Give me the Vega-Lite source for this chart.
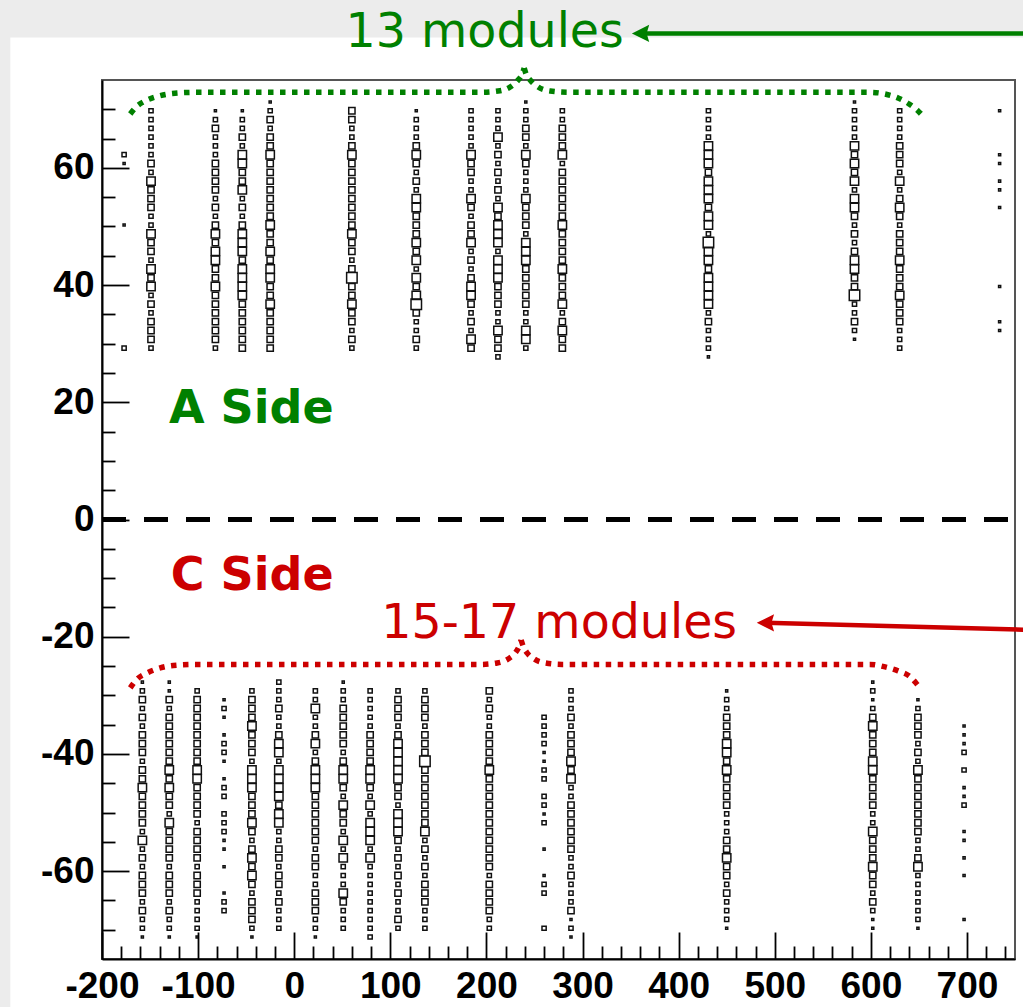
{
  "$schema": "https://vega.github.io/schema/vega-lite/v6.json",
  "width": 913,
  "height": 879,
  "autosize": {"type": "none"},
  "padding": {"left": 102, "top": 80, "right": 8, "bottom": 48},
  "background": "#ffffff",
  "config": {"view": {"stroke": "#555555", "strokeWidth": 2}},
  "datasets": {
    "strips": [
      {"x": -400, "x2": 800, "y": 82.27, "y2": 100},
      {"x": -400, "x2": -295.4, "y": -100, "y2": 100}
    ],
    "zeroline": [{"x": -200, "x2": 750, "y": 0}],
    "boxes": [
      {"x":-177,"y":62.25,"n":2},{"x":-177,"y":60.75,"n":1},{"x":-177,"y":50.25,"n":1},{"x":-177,"y":29.25,"n":2},

      {"x":-149,"y":69.75,"n":2},{"x":-149,"y":68.25,"n":2},{"x":-149,"y":66.75,"n":2},{"x":-149,"y":65.25,"n":2},{"x":-149,"y":63.75,"n":2},{"x":-149,"y":62.25,"n":2},{"x":-149,"y":60.75,"n":3},{"x":-149,"y":59.25,"n":2},{"x":-149,"y":57.75,"n":4},{"x":-149,"y":56.25,"n":3},{"x":-149,"y":54.75,"n":3},{"x":-149,"y":53.25,"n":3},{"x":-149,"y":51.75,"n":2},{"x":-149,"y":50.25,"n":2},{"x":-149,"y":48.75,"n":4},{"x":-149,"y":47.25,"n":3},{"x":-149,"y":45.75,"n":3},{"x":-149,"y":44.25,"n":2},{"x":-149,"y":42.75,"n":4},{"x":-149,"y":41.25,"n":3},{"x":-149,"y":39.75,"n":4},{"x":-149,"y":38.25,"n":2},{"x":-149,"y":36.75,"n":3},{"x":-149,"y":35.25,"n":2},{"x":-149,"y":33.75,"n":3},{"x":-149,"y":32.25,"n":3},{"x":-149,"y":30.75,"n":3},{"x":-149,"y":29.25,"n":2},

      {"x":-82,"y":69.75,"n":1},{"x":-82,"y":68.25,"n":2},{"x":-82,"y":66.75,"n":3},{"x":-82,"y":65.25,"n":2},{"x":-82,"y":63.75,"n":2},{"x":-82,"y":62.25,"n":2},{"x":-82,"y":60.75,"n":3},{"x":-82,"y":59.25,"n":3},{"x":-82,"y":57.75,"n":3},{"x":-82,"y":56.25,"n":3},{"x":-82,"y":54.75,"n":2},{"x":-82,"y":53.25,"n":3},{"x":-82,"y":51.75,"n":2},{"x":-82,"y":50.25,"n":3},{"x":-82,"y":48.75,"n":4},{"x":-82,"y":47.25,"n":3},{"x":-82,"y":45.75,"n":4},{"x":-82,"y":44.25,"n":4},{"x":-82,"y":42.75,"n":3},{"x":-82,"y":41.25,"n":3},{"x":-82,"y":39.75,"n":4},{"x":-82,"y":38.25,"n":3},{"x":-82,"y":36.75,"n":3},{"x":-82,"y":35.25,"n":3},{"x":-82,"y":33.75,"n":3},{"x":-82,"y":32.25,"n":3},{"x":-82,"y":30.75,"n":3},{"x":-82,"y":29.25,"n":2},

      {"x":-54,"y":69.75,"n":1},{"x":-54,"y":68.25,"n":2},{"x":-54,"y":66.75,"n":2},{"x":-54,"y":65.25,"n":3},{"x":-54,"y":63.75,"n":2},{"x":-54,"y":62.25,"n":4},{"x":-54,"y":60.75,"n":4},{"x":-54,"y":59.25,"n":3},{"x":-54,"y":57.75,"n":3},{"x":-54,"y":56.25,"n":4},{"x":-54,"y":54.75,"n":2},{"x":-54,"y":53.25,"n":3},{"x":-54,"y":51.75,"n":2},{"x":-54,"y":50.25,"n":3},{"x":-54,"y":48.75,"n":4},{"x":-54,"y":47.25,"n":4},{"x":-54,"y":45.75,"n":4},{"x":-54,"y":44.25,"n":3},{"x":-54,"y":42.75,"n":4},{"x":-54,"y":41.25,"n":4},{"x":-54,"y":39.75,"n":4},{"x":-54,"y":38.25,"n":4},{"x":-54,"y":36.75,"n":3},{"x":-54,"y":35.25,"n":3},{"x":-54,"y":33.75,"n":3},{"x":-54,"y":32.25,"n":3},{"x":-54,"y":30.75,"n":3},{"x":-54,"y":29.25,"n":3},

      {"x":-25,"y":71.25,"n":1},{"x":-25,"y":69.75,"n":2},{"x":-25,"y":68.25,"n":3},{"x":-25,"y":66.75,"n":2},{"x":-25,"y":65.25,"n":3},{"x":-25,"y":63.75,"n":3},{"x":-25,"y":62.25,"n":4},{"x":-25,"y":60.75,"n":3},{"x":-25,"y":59.25,"n":3},{"x":-25,"y":57.75,"n":3},{"x":-25,"y":56.25,"n":3},{"x":-25,"y":54.75,"n":3},{"x":-25,"y":53.25,"n":3},{"x":-25,"y":51.75,"n":3},{"x":-25,"y":50.25,"n":4},{"x":-25,"y":48.75,"n":3},{"x":-25,"y":47.25,"n":3},{"x":-25,"y":45.75,"n":4},{"x":-25,"y":44.25,"n":3},{"x":-25,"y":42.75,"n":4},{"x":-25,"y":41.25,"n":4},{"x":-25,"y":39.75,"n":3},{"x":-25,"y":38.25,"n":3},{"x":-25,"y":36.75,"n":4},{"x":-25,"y":35.25,"n":3},{"x":-25,"y":33.75,"n":3},{"x":-25,"y":32.25,"n":3},{"x":-25,"y":30.75,"n":3},{"x":-25,"y":29.25,"n":3},

      {"x":60,"y":69.75,"n":3},{"x":60,"y":68.25,"n":3},{"x":60,"y":66.75,"n":2},{"x":60,"y":65.25,"n":2},{"x":60,"y":63.75,"n":3},{"x":60,"y":62.25,"n":4},{"x":60,"y":60.75,"n":3},{"x":60,"y":59.25,"n":3},{"x":60,"y":57.75,"n":3},{"x":60,"y":56.25,"n":3},{"x":60,"y":54.75,"n":3},{"x":60,"y":53.25,"n":3},{"x":60,"y":51.75,"n":3},{"x":60,"y":50.25,"n":3},{"x":60,"y":48.75,"n":4},{"x":60,"y":47.25,"n":3},{"x":60,"y":45.75,"n":3},{"x":60,"y":44.25,"n":2},{"x":60,"y":42.75,"n":3},{"x":60,"y":41.25,"n":5},{"x":60,"y":39.75,"n":3},{"x":60,"y":38.25,"n":3},{"x":60,"y":36.75,"n":4},{"x":60,"y":35.25,"n":3},{"x":60,"y":33.75,"n":3},{"x":60,"y":32.25,"n":2},{"x":60,"y":30.75,"n":3},{"x":60,"y":29.25,"n":2},

      {"x":127,"y":69.75,"n":1},{"x":127,"y":68.25,"n":2},{"x":127,"y":66.75,"n":2},{"x":127,"y":65.25,"n":2},{"x":127,"y":63.75,"n":3},{"x":127,"y":62.25,"n":4},{"x":127,"y":60.75,"n":3},{"x":127,"y":59.25,"n":2},{"x":127,"y":57.75,"n":3},{"x":127,"y":56.25,"n":2},{"x":127,"y":54.75,"n":4},{"x":127,"y":53.25,"n":4},{"x":127,"y":51.75,"n":3},{"x":127,"y":50.25,"n":3},{"x":127,"y":48.75,"n":3},{"x":127,"y":47.25,"n":4},{"x":127,"y":45.75,"n":3},{"x":127,"y":44.25,"n":4},{"x":127,"y":42.75,"n":2},{"x":127,"y":41.25,"n":4},{"x":127,"y":39.75,"n":3},{"x":127,"y":38.25,"n":4},{"x":127,"y":36.75,"n":5},{"x":127,"y":35.25,"n":3},{"x":127,"y":33.75,"n":2},{"x":127,"y":32.25,"n":2},{"x":127,"y":30.75,"n":3},{"x":127,"y":29.25,"n":2},

      {"x":184,"y":69.75,"n":2},{"x":184,"y":68.25,"n":2},{"x":184,"y":66.75,"n":2},{"x":184,"y":65.25,"n":2},{"x":184,"y":63.75,"n":2},{"x":184,"y":62.25,"n":4},{"x":184,"y":60.75,"n":3},{"x":184,"y":59.25,"n":3},{"x":184,"y":57.75,"n":2},{"x":184,"y":56.25,"n":2},{"x":184,"y":54.75,"n":4},{"x":184,"y":53.25,"n":3},{"x":184,"y":51.75,"n":2},{"x":184,"y":50.25,"n":3},{"x":184,"y":48.75,"n":3},{"x":184,"y":47.25,"n":4},{"x":184,"y":45.75,"n":2},{"x":184,"y":44.25,"n":3},{"x":184,"y":42.75,"n":2},{"x":184,"y":41.25,"n":3},{"x":184,"y":39.75,"n":4},{"x":184,"y":38.25,"n":4},{"x":184,"y":36.75,"n":3},{"x":184,"y":35.25,"n":2},{"x":184,"y":33.75,"n":3},{"x":184,"y":32.25,"n":2},{"x":184,"y":30.75,"n":4},{"x":184,"y":29.25,"n":3},

      {"x":212,"y":69.75,"n":2},{"x":212,"y":68.25,"n":2},{"x":212,"y":66.75,"n":2},{"x":212,"y":65.25,"n":4},{"x":212,"y":63.75,"n":2},{"x":212,"y":62.25,"n":3},{"x":212,"y":60.75,"n":2},{"x":212,"y":59.25,"n":3},{"x":212,"y":57.75,"n":2},{"x":212,"y":56.25,"n":3},{"x":212,"y":54.75,"n":2},{"x":212,"y":53.25,"n":4},{"x":212,"y":51.75,"n":3},{"x":212,"y":50.25,"n":4},{"x":212,"y":48.75,"n":4},{"x":212,"y":47.25,"n":4},{"x":212,"y":45.75,"n":2},{"x":212,"y":44.25,"n":4},{"x":212,"y":42.75,"n":4},{"x":212,"y":41.25,"n":4},{"x":212,"y":39.75,"n":3},{"x":212,"y":38.25,"n":3},{"x":212,"y":36.75,"n":3},{"x":212,"y":35.25,"n":2},{"x":212,"y":33.75,"n":2},{"x":212,"y":32.25,"n":4},{"x":212,"y":30.75,"n":3},{"x":212,"y":29.25,"n":3},{"x":212,"y":27.75,"n":2},

      {"x":241,"y":71.25,"n":1},{"x":241,"y":69.75,"n":2},{"x":241,"y":68.25,"n":2},{"x":241,"y":66.75,"n":3},{"x":241,"y":65.25,"n":3},{"x":241,"y":63.75,"n":2},{"x":241,"y":62.25,"n":4},{"x":241,"y":60.75,"n":3},{"x":241,"y":59.25,"n":2},{"x":241,"y":57.75,"n":2},{"x":241,"y":56.25,"n":2},{"x":241,"y":54.75,"n":4},{"x":241,"y":53.25,"n":3},{"x":241,"y":51.75,"n":3},{"x":241,"y":50.25,"n":3},{"x":241,"y":48.75,"n":2},{"x":241,"y":47.25,"n":4},{"x":241,"y":45.75,"n":4},{"x":241,"y":44.25,"n":4},{"x":241,"y":42.75,"n":3},{"x":241,"y":41.25,"n":3},{"x":241,"y":39.75,"n":3},{"x":241,"y":38.25,"n":3},{"x":241,"y":36.75,"n":3},{"x":241,"y":35.25,"n":2},{"x":241,"y":33.75,"n":2},{"x":241,"y":32.25,"n":4},{"x":241,"y":30.75,"n":4},{"x":241,"y":29.25,"n":2},

      {"x":279,"y":69.75,"n":2},{"x":279,"y":68.25,"n":2},{"x":279,"y":66.75,"n":3},{"x":279,"y":65.25,"n":3},{"x":279,"y":63.75,"n":3},{"x":279,"y":62.25,"n":4},{"x":279,"y":60.75,"n":2},{"x":279,"y":59.25,"n":3},{"x":279,"y":57.75,"n":3},{"x":279,"y":56.25,"n":3},{"x":279,"y":54.75,"n":3},{"x":279,"y":53.25,"n":3},{"x":279,"y":51.75,"n":3},{"x":279,"y":50.25,"n":4},{"x":279,"y":48.75,"n":3},{"x":279,"y":47.25,"n":3},{"x":279,"y":45.75,"n":3},{"x":279,"y":44.25,"n":3},{"x":279,"y":42.75,"n":4},{"x":279,"y":41.25,"n":3},{"x":279,"y":39.75,"n":3},{"x":279,"y":38.25,"n":3},{"x":279,"y":36.75,"n":4},{"x":279,"y":35.25,"n":2},{"x":279,"y":33.75,"n":3},{"x":279,"y":32.25,"n":4},{"x":279,"y":30.75,"n":3},{"x":279,"y":29.25,"n":3},

      {"x":431,"y":69.75,"n":2},{"x":431,"y":68.25,"n":2},{"x":431,"y":66.75,"n":2},{"x":431,"y":65.25,"n":2},{"x":431,"y":63.75,"n":4},{"x":431,"y":62.25,"n":4},{"x":431,"y":60.75,"n":4},{"x":431,"y":59.25,"n":3},{"x":431,"y":57.75,"n":4},{"x":431,"y":56.25,"n":4},{"x":431,"y":54.75,"n":4},{"x":431,"y":53.25,"n":3},{"x":431,"y":51.75,"n":4},{"x":431,"y":50.25,"n":4},{"x":431,"y":48.75,"n":2},{"x":431,"y":47.25,"n":5},{"x":431,"y":45.75,"n":4},{"x":431,"y":44.25,"n":4},{"x":431,"y":42.75,"n":3},{"x":431,"y":41.25,"n":4},{"x":431,"y":39.75,"n":4},{"x":431,"y":38.25,"n":4},{"x":431,"y":36.75,"n":4},{"x":431,"y":35.25,"n":2},{"x":431,"y":33.75,"n":3},{"x":431,"y":32.25,"n":2},{"x":431,"y":30.75,"n":2},{"x":431,"y":29.25,"n":2},{"x":431,"y":27.75,"n":1},

      {"x":583,"y":71.25,"n":1},{"x":583,"y":69.75,"n":2},{"x":583,"y":68.25,"n":2},{"x":583,"y":66.75,"n":2},{"x":583,"y":65.25,"n":2},{"x":583,"y":63.75,"n":4},{"x":583,"y":62.25,"n":3},{"x":583,"y":60.75,"n":4},{"x":583,"y":59.25,"n":3},{"x":583,"y":57.75,"n":4},{"x":583,"y":56.25,"n":2},{"x":583,"y":54.75,"n":4},{"x":583,"y":53.25,"n":4},{"x":583,"y":51.75,"n":3},{"x":583,"y":50.25,"n":2},{"x":583,"y":48.75,"n":3},{"x":583,"y":47.25,"n":2},{"x":583,"y":45.75,"n":3},{"x":583,"y":44.25,"n":4},{"x":583,"y":42.75,"n":4},{"x":583,"y":41.25,"n":3},{"x":583,"y":39.75,"n":3},{"x":583,"y":38.25,"n":5},{"x":583,"y":36.75,"n":2},{"x":583,"y":35.25,"n":2},{"x":583,"y":33.75,"n":3},{"x":583,"y":32.25,"n":2},{"x":583,"y":30.75,"n":1},

      {"x":630,"y":69.75,"n":2},{"x":630,"y":68.25,"n":2},{"x":630,"y":66.75,"n":2},{"x":630,"y":65.25,"n":2},{"x":630,"y":63.75,"n":3},{"x":630,"y":62.25,"n":3},{"x":630,"y":60.75,"n":3},{"x":630,"y":59.25,"n":2},{"x":630,"y":57.75,"n":4},{"x":630,"y":56.25,"n":2},{"x":630,"y":54.75,"n":3},{"x":630,"y":53.25,"n":4},{"x":630,"y":51.75,"n":3},{"x":630,"y":50.25,"n":2},{"x":630,"y":48.75,"n":3},{"x":630,"y":47.25,"n":3},{"x":630,"y":45.75,"n":3},{"x":630,"y":44.25,"n":4},{"x":630,"y":42.75,"n":3},{"x":630,"y":41.25,"n":3},{"x":630,"y":39.75,"n":3},{"x":630,"y":38.25,"n":4},{"x":630,"y":36.75,"n":3},{"x":630,"y":35.25,"n":3},{"x":630,"y":33.75,"n":3},{"x":630,"y":32.25,"n":2},{"x":630,"y":30.75,"n":2},{"x":630,"y":29.25,"n":2},

      {"x":734,"y":69.75,"n":1},{"x":734,"y":62.25,"n":1},{"x":734,"y":60.75,"n":1},{"x":734,"y":57.75,"n":1},{"x":734,"y":56.25,"n":1},{"x":734,"y":53.25,"n":1},{"x":734,"y":39.75,"n":1},{"x":734,"y":33.75,"n":1},{"x":734,"y":32.25,"n":1},

      {"x":-158,"y":-27.75,"n":1},{"x":-158,"y":-29.25,"n":2},{"x":-158,"y":-30.75,"n":3},{"x":-158,"y":-32.25,"n":2},{"x":-158,"y":-33.75,"n":3},{"x":-158,"y":-35.25,"n":2},{"x":-158,"y":-36.75,"n":3},{"x":-158,"y":-38.25,"n":3},{"x":-158,"y":-39.75,"n":3},{"x":-158,"y":-41.25,"n":2},{"x":-158,"y":-42.75,"n":3},{"x":-158,"y":-44.25,"n":3},{"x":-158,"y":-45.75,"n":4},{"x":-158,"y":-47.25,"n":3},{"x":-158,"y":-48.75,"n":3},{"x":-158,"y":-50.25,"n":3},{"x":-158,"y":-51.75,"n":3},{"x":-158,"y":-53.25,"n":2},{"x":-158,"y":-54.75,"n":4},{"x":-158,"y":-56.25,"n":2},{"x":-158,"y":-57.75,"n":3},{"x":-158,"y":-59.25,"n":2},{"x":-158,"y":-60.75,"n":3},{"x":-158,"y":-62.25,"n":3},{"x":-158,"y":-63.75,"n":3},{"x":-158,"y":-65.25,"n":2},{"x":-158,"y":-66.75,"n":3},{"x":-158,"y":-68.25,"n":2},{"x":-158,"y":-69.75,"n":2},{"x":-158,"y":-71.25,"n":1},

      {"x":-130,"y":-27.75,"n":1},{"x":-130,"y":-29.25,"n":1},{"x":-130,"y":-30.75,"n":3},{"x":-130,"y":-32.25,"n":2},{"x":-130,"y":-33.75,"n":3},{"x":-130,"y":-35.25,"n":3},{"x":-130,"y":-36.75,"n":3},{"x":-130,"y":-38.25,"n":3},{"x":-130,"y":-39.75,"n":3},{"x":-130,"y":-41.25,"n":3},{"x":-130,"y":-42.75,"n":4},{"x":-130,"y":-44.25,"n":3},{"x":-130,"y":-45.75,"n":4},{"x":-130,"y":-47.25,"n":3},{"x":-130,"y":-48.75,"n":3},{"x":-130,"y":-50.25,"n":2},{"x":-130,"y":-51.75,"n":4},{"x":-130,"y":-53.25,"n":3},{"x":-130,"y":-54.75,"n":3},{"x":-130,"y":-56.25,"n":3},{"x":-130,"y":-57.75,"n":3},{"x":-130,"y":-59.25,"n":2},{"x":-130,"y":-60.75,"n":3},{"x":-130,"y":-62.25,"n":3},{"x":-130,"y":-63.75,"n":3},{"x":-130,"y":-65.25,"n":2},{"x":-130,"y":-66.75,"n":3},{"x":-130,"y":-68.25,"n":2},{"x":-130,"y":-69.75,"n":2},{"x":-130,"y":-71.25,"n":1},

      {"x":-101,"y":-29.25,"n":2},{"x":-101,"y":-30.75,"n":3},{"x":-101,"y":-32.25,"n":3},{"x":-101,"y":-33.75,"n":3},{"x":-101,"y":-35.25,"n":3},{"x":-101,"y":-36.75,"n":3},{"x":-101,"y":-38.25,"n":3},{"x":-101,"y":-39.75,"n":3},{"x":-101,"y":-41.25,"n":3},{"x":-101,"y":-42.75,"n":4},{"x":-101,"y":-44.25,"n":4},{"x":-101,"y":-45.75,"n":3},{"x":-101,"y":-47.25,"n":3},{"x":-101,"y":-48.75,"n":3},{"x":-101,"y":-50.25,"n":3},{"x":-101,"y":-51.75,"n":2},{"x":-101,"y":-53.25,"n":3},{"x":-101,"y":-54.75,"n":3},{"x":-101,"y":-56.25,"n":3},{"x":-101,"y":-57.75,"n":3},{"x":-101,"y":-59.25,"n":2},{"x":-101,"y":-60.75,"n":3},{"x":-101,"y":-62.25,"n":3},{"x":-101,"y":-63.75,"n":3},{"x":-101,"y":-65.25,"n":2},{"x":-101,"y":-66.75,"n":2},{"x":-101,"y":-68.25,"n":2},{"x":-101,"y":-69.75,"n":2},{"x":-101,"y":-71.25,"n":1},

      {"x":-73,"y":-30.75,"n":1},{"x":-73,"y":-32.25,"n":2},{"x":-73,"y":-33.75,"n":1},{"x":-73,"y":-36.75,"n":1},{"x":-73,"y":-38.25,"n":2},{"x":-73,"y":-39.75,"n":2},{"x":-73,"y":-41.25,"n":1},{"x":-73,"y":-44.25,"n":1},{"x":-73,"y":-45.75,"n":2},{"x":-73,"y":-47.25,"n":2},{"x":-73,"y":-50.25,"n":2},{"x":-73,"y":-51.75,"n":2},{"x":-73,"y":-53.25,"n":2},{"x":-73,"y":-54.75,"n":1},{"x":-73,"y":-56.25,"n":1},{"x":-73,"y":-59.25,"n":1},{"x":-73,"y":-63.75,"n":1},{"x":-73,"y":-65.25,"n":2},{"x":-73,"y":-66.75,"n":2},

      {"x":-44,"y":-29.25,"n":2},{"x":-44,"y":-30.75,"n":3},{"x":-44,"y":-32.25,"n":3},{"x":-44,"y":-33.75,"n":3},{"x":-44,"y":-35.25,"n":4},{"x":-44,"y":-36.75,"n":3},{"x":-44,"y":-38.25,"n":3},{"x":-44,"y":-39.75,"n":3},{"x":-44,"y":-41.25,"n":2},{"x":-44,"y":-42.75,"n":4},{"x":-44,"y":-44.25,"n":4},{"x":-44,"y":-45.75,"n":4},{"x":-44,"y":-47.25,"n":3},{"x":-44,"y":-48.75,"n":3},{"x":-44,"y":-50.25,"n":3},{"x":-44,"y":-51.75,"n":4},{"x":-44,"y":-53.25,"n":3},{"x":-44,"y":-54.75,"n":2},{"x":-44,"y":-56.25,"n":3},{"x":-44,"y":-57.75,"n":4},{"x":-44,"y":-59.25,"n":3},{"x":-44,"y":-60.75,"n":4},{"x":-44,"y":-62.25,"n":3},{"x":-44,"y":-63.75,"n":2},{"x":-44,"y":-65.25,"n":3},{"x":-44,"y":-66.75,"n":3},{"x":-44,"y":-68.25,"n":3},{"x":-44,"y":-69.75,"n":2},{"x":-44,"y":-71.25,"n":1},

      {"x":-16,"y":-27.75,"n":2},{"x":-16,"y":-29.25,"n":2},{"x":-16,"y":-30.75,"n":2},{"x":-16,"y":-32.25,"n":3},{"x":-16,"y":-33.75,"n":2},{"x":-16,"y":-35.25,"n":2},{"x":-16,"y":-36.75,"n":3},{"x":-16,"y":-38.25,"n":4},{"x":-16,"y":-39.75,"n":4},{"x":-16,"y":-41.25,"n":2},{"x":-16,"y":-42.75,"n":4},{"x":-16,"y":-44.25,"n":4},{"x":-16,"y":-45.75,"n":4},{"x":-16,"y":-47.25,"n":4},{"x":-16,"y":-48.75,"n":3},{"x":-16,"y":-50.25,"n":4},{"x":-16,"y":-51.75,"n":4},{"x":-16,"y":-53.25,"n":2},{"x":-16,"y":-54.75,"n":2},{"x":-16,"y":-56.25,"n":3},{"x":-16,"y":-57.75,"n":3},{"x":-16,"y":-59.25,"n":2},{"x":-16,"y":-60.75,"n":3},{"x":-16,"y":-62.25,"n":3},{"x":-16,"y":-63.75,"n":2},{"x":-16,"y":-65.25,"n":3},{"x":-16,"y":-66.75,"n":2},{"x":-16,"y":-68.25,"n":2},{"x":-16,"y":-69.75,"n":2},

      {"x":22,"y":-29.25,"n":2},{"x":22,"y":-30.75,"n":2},{"x":22,"y":-32.25,"n":4},{"x":22,"y":-33.75,"n":2},{"x":22,"y":-35.25,"n":2},{"x":22,"y":-36.75,"n":3},{"x":22,"y":-38.25,"n":4},{"x":22,"y":-39.75,"n":2},{"x":22,"y":-41.25,"n":3},{"x":22,"y":-42.75,"n":4},{"x":22,"y":-44.25,"n":4},{"x":22,"y":-45.75,"n":4},{"x":22,"y":-47.25,"n":3},{"x":22,"y":-48.75,"n":3},{"x":22,"y":-50.25,"n":3},{"x":22,"y":-51.75,"n":3},{"x":22,"y":-53.25,"n":3},{"x":22,"y":-54.75,"n":3},{"x":22,"y":-56.25,"n":2},{"x":22,"y":-57.75,"n":3},{"x":22,"y":-59.25,"n":3},{"x":22,"y":-60.75,"n":2},{"x":22,"y":-62.25,"n":2},{"x":22,"y":-63.75,"n":3},{"x":22,"y":-65.25,"n":3},{"x":22,"y":-66.75,"n":3},{"x":22,"y":-68.25,"n":2},{"x":22,"y":-69.75,"n":2},{"x":22,"y":-71.25,"n":1},

      {"x":51,"y":-27.75,"n":1},{"x":51,"y":-29.25,"n":2},{"x":51,"y":-30.75,"n":2},{"x":51,"y":-32.25,"n":3},{"x":51,"y":-33.75,"n":3},{"x":51,"y":-35.25,"n":3},{"x":51,"y":-36.75,"n":3},{"x":51,"y":-38.25,"n":3},{"x":51,"y":-39.75,"n":2},{"x":51,"y":-41.25,"n":3},{"x":51,"y":-42.75,"n":4},{"x":51,"y":-44.25,"n":4},{"x":51,"y":-45.75,"n":3},{"x":51,"y":-47.25,"n":2},{"x":51,"y":-48.75,"n":4},{"x":51,"y":-50.25,"n":3},{"x":51,"y":-51.75,"n":3},{"x":51,"y":-53.25,"n":2},{"x":51,"y":-54.75,"n":4},{"x":51,"y":-56.25,"n":2},{"x":51,"y":-57.75,"n":4},{"x":51,"y":-59.25,"n":2},{"x":51,"y":-60.75,"n":2},{"x":51,"y":-62.25,"n":2},{"x":51,"y":-63.75,"n":4},{"x":51,"y":-65.25,"n":3},{"x":51,"y":-66.75,"n":2},{"x":51,"y":-68.25,"n":2},{"x":51,"y":-69.75,"n":2},

      {"x":79,"y":-29.25,"n":2},{"x":79,"y":-30.75,"n":2},{"x":79,"y":-32.25,"n":2},{"x":79,"y":-33.75,"n":2},{"x":79,"y":-35.25,"n":2},{"x":79,"y":-36.75,"n":3},{"x":79,"y":-38.25,"n":3},{"x":79,"y":-39.75,"n":3},{"x":79,"y":-41.25,"n":3},{"x":79,"y":-42.75,"n":4},{"x":79,"y":-44.25,"n":4},{"x":79,"y":-45.75,"n":3},{"x":79,"y":-47.25,"n":2},{"x":79,"y":-48.75,"n":4},{"x":79,"y":-50.25,"n":2},{"x":79,"y":-51.75,"n":4},{"x":79,"y":-53.25,"n":4},{"x":79,"y":-54.75,"n":4},{"x":79,"y":-56.25,"n":2},{"x":79,"y":-57.75,"n":4},{"x":79,"y":-59.25,"n":2},{"x":79,"y":-60.75,"n":2},{"x":79,"y":-62.25,"n":2},{"x":79,"y":-63.75,"n":2},{"x":79,"y":-65.25,"n":2},{"x":79,"y":-66.75,"n":2},{"x":79,"y":-68.25,"n":2},{"x":79,"y":-69.75,"n":2},{"x":79,"y":-71.25,"n":2},

      {"x":108,"y":-29.25,"n":2},{"x":108,"y":-30.75,"n":3},{"x":108,"y":-32.25,"n":3},{"x":108,"y":-33.75,"n":3},{"x":108,"y":-35.25,"n":2},{"x":108,"y":-36.75,"n":3},{"x":108,"y":-38.25,"n":4},{"x":108,"y":-39.75,"n":4},{"x":108,"y":-41.25,"n":4},{"x":108,"y":-42.75,"n":4},{"x":108,"y":-44.25,"n":4},{"x":108,"y":-45.75,"n":3},{"x":108,"y":-47.25,"n":3},{"x":108,"y":-48.75,"n":2},{"x":108,"y":-50.25,"n":4},{"x":108,"y":-51.75,"n":4},{"x":108,"y":-53.25,"n":4},{"x":108,"y":-54.75,"n":3},{"x":108,"y":-56.25,"n":2},{"x":108,"y":-57.75,"n":3},{"x":108,"y":-59.25,"n":2},{"x":108,"y":-60.75,"n":3},{"x":108,"y":-62.25,"n":2},{"x":108,"y":-63.75,"n":3},{"x":108,"y":-65.25,"n":2},{"x":108,"y":-66.75,"n":2},{"x":108,"y":-68.25,"n":3},{"x":108,"y":-69.75,"n":2},

      {"x":136,"y":-29.25,"n":2},{"x":136,"y":-30.75,"n":3},{"x":136,"y":-32.25,"n":3},{"x":136,"y":-33.75,"n":3},{"x":136,"y":-35.25,"n":2},{"x":136,"y":-36.75,"n":3},{"x":136,"y":-38.25,"n":3},{"x":136,"y":-39.75,"n":3},{"x":136,"y":-41.25,"n":5},{"x":136,"y":-42.75,"n":3},{"x":136,"y":-44.25,"n":3},{"x":136,"y":-45.75,"n":3},{"x":136,"y":-47.25,"n":3},{"x":136,"y":-48.75,"n":3},{"x":136,"y":-50.25,"n":3},{"x":136,"y":-51.75,"n":3},{"x":136,"y":-53.25,"n":4},{"x":136,"y":-54.75,"n":2},{"x":136,"y":-56.25,"n":3},{"x":136,"y":-57.75,"n":2},{"x":136,"y":-59.25,"n":3},{"x":136,"y":-60.75,"n":2},{"x":136,"y":-62.25,"n":3},{"x":136,"y":-63.75,"n":3},{"x":136,"y":-65.25,"n":3},{"x":136,"y":-66.75,"n":2},{"x":136,"y":-68.25,"n":2},{"x":136,"y":-69.75,"n":2},

      {"x":203,"y":-29.25,"n":3},{"x":203,"y":-30.75,"n":2},{"x":203,"y":-32.25,"n":3},{"x":203,"y":-33.75,"n":2},{"x":203,"y":-35.25,"n":2},{"x":203,"y":-36.75,"n":3},{"x":203,"y":-38.25,"n":3},{"x":203,"y":-39.75,"n":3},{"x":203,"y":-41.25,"n":3},{"x":203,"y":-42.75,"n":4},{"x":203,"y":-44.25,"n":3},{"x":203,"y":-45.75,"n":3},{"x":203,"y":-47.25,"n":3},{"x":203,"y":-48.75,"n":3},{"x":203,"y":-50.25,"n":3},{"x":203,"y":-51.75,"n":3},{"x":203,"y":-53.25,"n":3},{"x":203,"y":-54.75,"n":3},{"x":203,"y":-56.25,"n":3},{"x":203,"y":-57.75,"n":3},{"x":203,"y":-59.25,"n":3},{"x":203,"y":-60.75,"n":2},{"x":203,"y":-62.25,"n":3},{"x":203,"y":-63.75,"n":3},{"x":203,"y":-65.25,"n":3},{"x":203,"y":-66.75,"n":3},{"x":203,"y":-68.25,"n":2},{"x":203,"y":-69.75,"n":2},

      {"x":260,"y":-33.75,"n":2},{"x":260,"y":-35.25,"n":2},{"x":260,"y":-36.75,"n":2},{"x":260,"y":-38.25,"n":2},{"x":260,"y":-39.75,"n":1},{"x":260,"y":-41.25,"n":1},{"x":260,"y":-42.75,"n":2},{"x":260,"y":-44.25,"n":2},{"x":260,"y":-47.25,"n":2},{"x":260,"y":-48.75,"n":2},{"x":260,"y":-50.25,"n":1},{"x":260,"y":-51.75,"n":2},{"x":260,"y":-56.25,"n":1},{"x":260,"y":-60.75,"n":1},{"x":260,"y":-62.25,"n":2},{"x":260,"y":-63.75,"n":2},{"x":260,"y":-69.75,"n":2},

      {"x":288,"y":-29.25,"n":2},{"x":288,"y":-30.75,"n":2},{"x":288,"y":-32.25,"n":2},{"x":288,"y":-33.75,"n":3},{"x":288,"y":-35.25,"n":2},{"x":288,"y":-36.75,"n":3},{"x":288,"y":-38.25,"n":3},{"x":288,"y":-39.75,"n":3},{"x":288,"y":-41.25,"n":4},{"x":288,"y":-42.75,"n":3},{"x":288,"y":-44.25,"n":4},{"x":288,"y":-45.75,"n":2},{"x":288,"y":-47.25,"n":2},{"x":288,"y":-48.75,"n":3},{"x":288,"y":-50.25,"n":3},{"x":288,"y":-51.75,"n":3},{"x":288,"y":-53.25,"n":3},{"x":288,"y":-54.75,"n":3},{"x":288,"y":-56.25,"n":3},{"x":288,"y":-57.75,"n":2},{"x":288,"y":-59.25,"n":2},{"x":288,"y":-60.75,"n":3},{"x":288,"y":-62.25,"n":2},{"x":288,"y":-63.75,"n":2},{"x":288,"y":-65.25,"n":2},{"x":288,"y":-66.75,"n":3},{"x":288,"y":-68.25,"n":1},{"x":288,"y":-69.75,"n":2},{"x":288,"y":-71.25,"n":1},

      {"x":450,"y":-29.25,"n":1},{"x":450,"y":-30.75,"n":2},{"x":450,"y":-32.25,"n":2},{"x":450,"y":-33.75,"n":3},{"x":450,"y":-35.25,"n":3},{"x":450,"y":-36.75,"n":3},{"x":450,"y":-38.25,"n":4},{"x":450,"y":-39.75,"n":4},{"x":450,"y":-41.25,"n":3},{"x":450,"y":-42.75,"n":4},{"x":450,"y":-44.25,"n":3},{"x":450,"y":-45.75,"n":3},{"x":450,"y":-47.25,"n":3},{"x":450,"y":-48.75,"n":3},{"x":450,"y":-50.25,"n":2},{"x":450,"y":-51.75,"n":2},{"x":450,"y":-53.25,"n":2},{"x":450,"y":-54.75,"n":3},{"x":450,"y":-56.25,"n":3},{"x":450,"y":-57.75,"n":4},{"x":450,"y":-59.25,"n":3},{"x":450,"y":-60.75,"n":3},{"x":450,"y":-62.25,"n":2},{"x":450,"y":-63.75,"n":3},{"x":450,"y":-65.25,"n":2},{"x":450,"y":-66.75,"n":2},{"x":450,"y":-68.25,"n":2},{"x":450,"y":-69.75,"n":1},

      {"x":602,"y":-27.75,"n":1},{"x":602,"y":-29.25,"n":2},{"x":602,"y":-30.75,"n":1},{"x":602,"y":-32.25,"n":2},{"x":602,"y":-33.75,"n":3},{"x":602,"y":-35.25,"n":4},{"x":602,"y":-36.75,"n":3},{"x":602,"y":-38.25,"n":3},{"x":602,"y":-39.75,"n":3},{"x":602,"y":-41.25,"n":4},{"x":602,"y":-42.75,"n":4},{"x":602,"y":-44.25,"n":3},{"x":602,"y":-45.75,"n":3},{"x":602,"y":-47.25,"n":3},{"x":602,"y":-48.75,"n":3},{"x":602,"y":-50.25,"n":2},{"x":602,"y":-51.75,"n":2},{"x":602,"y":-53.25,"n":4},{"x":602,"y":-54.75,"n":3},{"x":602,"y":-56.25,"n":3},{"x":602,"y":-57.75,"n":3},{"x":602,"y":-59.25,"n":4},{"x":602,"y":-60.75,"n":3},{"x":602,"y":-62.25,"n":3},{"x":602,"y":-63.75,"n":2},{"x":602,"y":-65.25,"n":3},{"x":602,"y":-66.75,"n":2},{"x":602,"y":-68.25,"n":1},{"x":602,"y":-69.75,"n":1},

      {"x":649,"y":-30.75,"n":1},{"x":649,"y":-32.25,"n":2},{"x":649,"y":-33.75,"n":3},{"x":649,"y":-35.25,"n":3},{"x":649,"y":-36.75,"n":3},{"x":649,"y":-38.25,"n":2},{"x":649,"y":-39.75,"n":3},{"x":649,"y":-41.25,"n":2},{"x":649,"y":-42.75,"n":4},{"x":649,"y":-44.25,"n":3},{"x":649,"y":-45.75,"n":3},{"x":649,"y":-47.25,"n":3},{"x":649,"y":-48.75,"n":3},{"x":649,"y":-50.25,"n":3},{"x":649,"y":-51.75,"n":3},{"x":649,"y":-53.25,"n":3},{"x":649,"y":-54.75,"n":2},{"x":649,"y":-56.25,"n":2},{"x":649,"y":-57.75,"n":3},{"x":649,"y":-59.25,"n":4},{"x":649,"y":-60.75,"n":2},{"x":649,"y":-62.25,"n":2},{"x":649,"y":-63.75,"n":2},{"x":649,"y":-65.25,"n":2},{"x":649,"y":-66.75,"n":2},{"x":649,"y":-68.25,"n":2},{"x":649,"y":-69.75,"n":1},

      {"x":697,"y":-35.25,"n":1},{"x":697,"y":-36.75,"n":1},{"x":697,"y":-38.25,"n":1},{"x":697,"y":-39.75,"n":2},{"x":697,"y":-42.75,"n":2},{"x":697,"y":-45.75,"n":1},{"x":697,"y":-47.25,"n":1},{"x":697,"y":-48.75,"n":2},{"x":697,"y":-53.25,"n":1},{"x":697,"y":-54.75,"n":1},{"x":697,"y":-57.75,"n":1},{"x":697,"y":-60.75,"n":1},{"x":697,"y":-68.25,"n":1}
    ],
    "braces": [
      {"side":"A","part":"left","x":-170.6,"y":69.2},{"side":"A","part":"left","x":-164.4,"y":70.4},{"side":"A","part":"left","x":-155.0,"y":71.42},{"side":"A","part":"left","x":-142.5,"y":72.19},{"side":"A","part":"left","x":-126.9,"y":72.7},{"side":"A","part":"left","x":-103.0,"y":72.9},{"side":"A","part":"left","x":193.5,"y":72.9},{"side":"A","part":"left","x":212.2,"y":73.12},{"side":"A","part":"left","x":224.7,"y":73.8},{"side":"A","part":"left","x":233.0,"y":74.99},{"side":"A","part":"left","x":237.2,"y":76.01},{"side":"A","part":"left","x":239.3,"y":77.03},
      {"side":"A","part":"right","x":239.3,"y":77.03},{"side":"A","part":"right","x":241.3,"y":76.01},{"side":"A","part":"right","x":245.5,"y":74.99},{"side":"A","part":"right","x":253.8,"y":73.8},{"side":"A","part":"right","x":266.3,"y":73.12},{"side":"A","part":"right","x":285.0,"y":72.9},{"side":"A","part":"right","x":599.2,"y":72.9},{"side":"A","part":"right","x":614.8,"y":72.61},{"side":"A","part":"right","x":628.3,"y":71.93},{"side":"A","part":"right","x":639.8,"y":70.91},{"side":"A","part":"right","x":648.1,"y":69.89},{"side":"A","part":"right","x":652.3,"y":69.2},
      {"side":"C","part":"left","x":-170.6,"y":-28.73},{"side":"C","part":"left","x":-163.3,"y":-27.2},{"side":"C","part":"left","x":-152.9,"y":-26.18},{"side":"C","part":"left","x":-139.4,"y":-25.33},{"side":"C","part":"left","x":-125.9,"y":-24.9},{"side":"C","part":"left","x":-103.0,"y":-24.73},{"side":"C","part":"left","x":193.5,"y":-24.73},{"side":"C","part":"left","x":211.2,"y":-24.48},{"side":"C","part":"left","x":222.6,"y":-23.8},{"side":"C","part":"left","x":229.9,"y":-22.78},{"side":"C","part":"left","x":234.1,"y":-21.59},{"side":"C","part":"left","x":236.1,"y":-20.57},
      {"side":"C","part":"right","x":236.1,"y":-20.57},{"side":"C","part":"right","x":238.2,"y":-21.59},{"side":"C","part":"right","x":242.4,"y":-22.78},{"side":"C","part":"right","x":249.7,"y":-23.8},{"side":"C","part":"right","x":261.1,"y":-24.48},{"side":"C","part":"right","x":278.8,"y":-24.73},{"side":"C","part":"right","x":599.2,"y":-24.73},{"side":"C","part":"right","x":614.8,"y":-25.16},{"side":"C","part":"right","x":628.3,"y":-25.84},{"side":"C","part":"right","x":639.8,"y":-26.69},{"side":"C","part":"right","x":646.9,"y":-27.88},{"side":"C","part":"right","x":650.0,"y":-28.56}
    ],
    "arrows": [
      {"side":"A","x":360.4,"y":82.95,"x2":760,"y2":82.95},
      {"side":"C","x":490.3,"y":-17.64,"x2":760,"y2":-18.8}
    ],
    "heads": [
      {"side":"A","x":360.4,"y":82.95},
      {"side":"C","x":490.3,"y":-17.64}
    ],
    "captions": [
      {"side":"A","label":"13 modules","x":198.2,"y":80.6},
      {"side":"C","label":"15-17 modules","x":275.7,"y":-20.2}
    ],
    "sides": [
      {"side":"A","label":"A Side","x":-44.7,"y":16.5},
      {"side":"C","label":"C Side","x":-43.7,"y":-12.07}
    ]
  },
  "layer": [
    {
      "data": {"name": "strips"},
      "mark": {"type": "rect", "color": "#ececec"},
      "encoding": {
        "x": {"field": "x", "type": "quantitative", "scale": {"domain": [-200, 750], "nice": false, "zero": false}},
        "x2": {"field": "x2"},
        "y": {"field": "y", "type": "quantitative", "scale": {"domain": [-75, 75], "nice": false, "zero": false}},
        "y2": {"field": "y2"}
      }
    },
    {
      "data": {"name": "boxes"},
      "mark": {"type": "point", "shape": "square", "filled": false, "stroke": "#111111", "strokeWidth": 1.5, "opacity": 1},
      "encoding": {
        "x": {
          "field": "x", "type": "quantitative",
          "scale": {"domain": [-200, 750], "nice": false, "zero": false},
          "axis": {
            "title": null, "orient": "bottom", "grid": false, "zindex": 1, "tickCount": 500,
            "values": [-200,-180,-160,-140,-120,-100,-80,-60,-40,-20,0,20,40,60,80,100,120,140,160,180,200,220,240,260,280,300,320,340,360,380,400,420,440,460,480,500,520,540,560,580,600,620,640,660,680,700,720,740],
            "domainColor": "#000000", "domainWidth": 2,
            "tickColor": "#000000", "tickWidth": 1.8,
            "tickSize": {"condition": {"test": "datum.value % 100 === 0", "value": -27}, "value": -13},
            "labelExpr": "datum.value % 100 === 0 ? '' + datum.value : ''",
            "labelFont": "Liberation Sans", "labelFontWeight": "bold", "labelFontSize": 37, "labelColor": "#000000",
            "labelPadding": 36, "labelBaseline": "top", "labelOverlap": false, "labelFlush": false, "labelBound": false
          }
        },
        "y": {
          "field": "y", "type": "quantitative",
          "scale": {"domain": [-75, 75], "nice": false, "zero": false},
          "axis": {
            "title": null, "orient": "left", "grid": false, "zindex": 1, "tickCount": 500,
            "values": [-70,-65,-60,-55,-50,-45,-40,-35,-30,-25,-20,-15,-10,-5,0,5,10,15,20,25,30,35,40,45,50,55,60,65,70],
            "domainColor": "#000000", "domainWidth": 2,
            "tickColor": "#000000", "tickWidth": 1.8,
            "tickSize": {"condition": {"test": "datum.value % 20 === 0", "value": -27}, "value": -13},
            "labelExpr": "datum.value % 20 === 0 ? '' + datum.value : ''",
            "labelFont": "Liberation Sans", "labelFontWeight": "bold", "labelFontSize": 37, "labelColor": "#000000",
            "labelPadding": 35, "labelAlign": "right", "labelBaseline": "middle", "labelOverlap": false, "labelFlush": false, "labelBound": false
          }
        },
        "size": {"field": "n", "type": "quantitative", "scale": {"type": "pow", "exponent": 2, "domain": [0, 5], "range": [0, 110]}, "legend": null}
      }
    },
    {
      "data": {"name": "zeroline"},
      "mark": {"type": "rule", "color": "#000000", "strokeWidth": 5, "strokeDash": [24, 18], "strokeCap": "butt"},
      "encoding": {
        "x": {"field": "x", "type": "quantitative", "scale": {"domain": [-200, 750], "nice": false, "zero": false}},
        "x2": {"field": "x2"},
        "y": {"field": "y", "type": "quantitative", "scale": {"domain": [-75, 75], "nice": false, "zero": false}}
      }
    },
    {
      "data": {"name": "braces"},
      "mark": {"type": "line", "interpolate": "monotone", "strokeWidth": 5.5, "strokeDash": [5.5, 6.5], "strokeCap": "butt"},
      "encoding": {
        "x": {"field": "x", "type": "quantitative", "scale": {"domain": [-200, 750], "nice": false, "zero": false}},
        "y": {"field": "y", "type": "quantitative", "scale": {"domain": [-75, 75], "nice": false, "zero": false}},
        "color": {"field": "side", "type": "nominal", "scale": {"domain": ["A", "C"], "range": ["#008000", "#cc0000"]}, "legend": null},
        "detail": {"field": "part", "type": "nominal"}
      }
    },
    {
      "data": {"name": "arrows"},
      "mark": {"type": "rule", "strokeWidth": 4.5, "strokeCap": "butt"},
      "encoding": {
        "x": {"field": "x", "type": "quantitative", "scale": {"domain": [-200, 750], "nice": false, "zero": false}},
        "x2": {"field": "x2"},
        "y": {"field": "y", "type": "quantitative", "scale": {"domain": [-75, 75], "nice": false, "zero": false}},
        "y2": {"field": "y2"},
        "color": {"field": "side", "type": "nominal", "scale": {"domain": ["A", "C"], "range": ["#008000", "#cc0000"]}, "legend": null}
      }
    },
    {
      "data": {"name": "heads"},
      "mark": {"type": "point", "shape": "M -1 0 L 1 -1 L 0.7 0 L 1 1 Z", "filled": true, "size": 300, "opacity": 1, "strokeWidth": 0},
      "encoding": {
        "x": {"field": "x", "type": "quantitative", "scale": {"domain": [-200, 750], "nice": false, "zero": false}},
        "y": {"field": "y", "type": "quantitative", "scale": {"domain": [-75, 75], "nice": false, "zero": false}},
        "color": {"field": "side", "type": "nominal", "scale": {"domain": ["A", "C"], "range": ["#008000", "#cc0000"]}, "legend": null}
      }
    },
    {
      "data": {"name": "captions"},
      "mark": {"type": "text", "font": "DejaVu Sans", "fontSize": 47.5, "align": "center", "baseline": "alphabetic"},
      "encoding": {
        "x": {"field": "x", "type": "quantitative", "scale": {"domain": [-200, 750], "nice": false, "zero": false}},
        "y": {"field": "y", "type": "quantitative", "scale": {"domain": [-75, 75], "nice": false, "zero": false}},
        "text": {"field": "label"},
        "color": {"field": "side", "type": "nominal", "scale": {"domain": ["A", "C"], "range": ["#008000", "#cc0000"]}, "legend": null}
      }
    },
    {
      "data": {"name": "sides"},
      "mark": {"type": "text", "font": "DejaVu Sans", "fontSize": 46, "fontWeight": "bold", "align": "center", "baseline": "alphabetic"},
      "encoding": {
        "x": {"field": "x", "type": "quantitative", "scale": {"domain": [-200, 750], "nice": false, "zero": false}},
        "y": {"field": "y", "type": "quantitative", "scale": {"domain": [-75, 75], "nice": false, "zero": false}},
        "text": {"field": "label"},
        "color": {"field": "side", "type": "nominal", "scale": {"domain": ["A", "C"], "range": ["#008000", "#cc0000"]}, "legend": null}
      }
    }
  ]
}
